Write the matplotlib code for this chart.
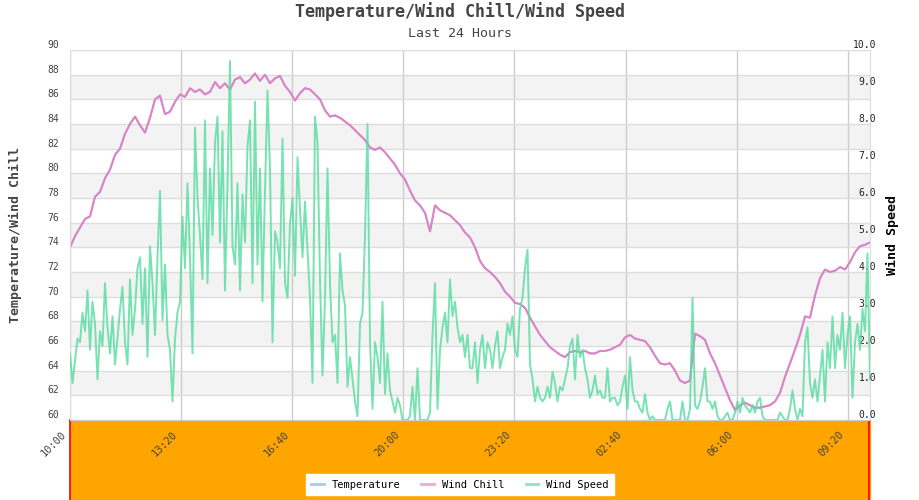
import numpy as np
import matplotlib
matplotlib.use("Agg")
import matplotlib.pyplot as plt
import matplotlib.transforms as mtransforms
from matplotlib.lines import Line2D

plt.rcParams["font.family"] = ["DejaVu Sans Mono"]

# x axis: minutes after 10:00
tick_minutes = [0, 200, 400, 600, 800, 1000, 1200, 1400]
tick_labels = ["10:00", "13:20", "16:40", "20:00", "23:20", "02:40", "06:00", "09:20"]

# wind chill, one reading every 9 minutes
chill_step = 9
wind_chill = [
    74.0, 74.9, 75.6, 76.3, 76.5, 78.1, 78.5, 79.6, 80.3, 81.5,
    82.0, 83.2, 84.0, 84.6, 83.9, 83.3, 84.5, 86.0, 86.3, 84.8,
    85.0, 85.8, 86.4, 86.2, 86.9, 86.6, 86.8, 86.4, 86.6, 87.4,
    86.9, 87.3, 86.8, 87.6, 87.8, 87.3, 87.6, 88.1, 87.5, 88.0,
    87.3, 87.7, 87.9, 87.1, 86.6, 85.9, 86.5, 86.9, 86.8, 86.4,
    86.0, 85.1, 84.6, 84.7, 84.5, 84.2, 83.9, 83.5, 83.1, 82.7,
    82.1, 81.9, 82.1, 81.7, 81.2, 80.7, 80.0, 79.5, 78.6, 77.8,
    77.4, 76.8, 75.3, 77.4, 77.0, 76.8, 76.6, 76.2, 75.8, 75.2,
    74.8, 74.0, 72.9, 72.3, 72.0, 71.6, 71.1, 70.4, 70.0, 69.5,
    69.4, 69.1, 68.3, 67.6, 66.9, 66.4, 65.9, 65.6, 65.3, 65.1,
    65.5, 65.6, 65.5, 65.6, 65.4, 65.4, 65.6, 65.6, 65.7, 65.9,
    66.1, 66.7, 66.9, 66.6, 66.5, 66.4, 65.9, 65.2, 64.6, 64.5,
    64.6, 64.0, 63.2, 63.0, 63.2, 67.0, 66.8, 66.5, 65.4, 64.6,
    63.6, 62.6, 61.6, 60.8, 61.2, 61.4, 61.2, 61.0, 61.0, 61.1,
    61.2, 61.5, 62.2, 63.5, 64.6, 65.7, 66.9, 68.4, 68.3, 70.1,
    71.5, 72.2, 72.0, 72.1, 72.4, 72.2, 72.8, 73.6, 74.1, 74.2,
    74.4,
]
# temperature equals wind chill at these temperatures (hidden under it)
temperature = list(wind_chill)

# wind speed, one reading every 4.5 minutes
speed_step = 4.5
wind_speed = [
    1.8, 1.0, 1.6, 2.2, 2.1, 2.9, 2.4, 3.5, 1.9, 3.2,
    2.6, 1.1, 2.4, 2.0, 3.7, 2.5, 1.8, 2.8, 1.5, 2.2,
    3.0, 3.6, 2.1, 1.5, 3.8, 2.3, 3.0, 4.1, 4.4, 2.6,
    4.1, 1.7, 4.7, 3.7, 2.3, 4.4, 6.2, 2.7, 4.2, 2.3,
    1.9, 0.5, 2.2, 2.9, 3.2, 5.5, 4.1, 6.4, 4.4, 1.8,
    7.9, 6.0, 5.0, 3.8, 8.1, 3.7, 6.8, 5.0, 7.5, 8.2,
    4.8, 7.8, 3.5, 6.4, 9.7, 4.7, 4.2, 6.4, 3.5, 6.1,
    4.8, 7.4, 8.1, 3.7, 8.6, 4.2, 6.8, 3.2, 6.2, 8.9,
    6.8,
    2.1, 5.1, 4.8, 4.1, 7.6, 3.7, 3.3, 5.3, 6.0, 3.9,
    7.1, 5.7, 4.4, 5.9, 4.6, 3.3, 1.0, 8.2, 7.5, 3.8,
    1.2, 3.3, 6.8, 3.7, 2.1, 2.3, 1.0, 4.5, 3.5, 3.1,
    0.9, 1.7, 1.1, 0.5, 0.1, 2.6, 2.9, 5.0, 8.0, 2.1,
    0.3, 2.1, 1.7, 1.0, 3.2, 0.7, 1.8, 0.8, 0.5, 0.2,
    0.6, 0.4, 0.0, 0.0, 0.0, 0.1, 0.9, 0.0, 1.4, 0.0,
    0.0, 0.0, 0.0, 0.2, 2.3, 3.7, 0.3, 1.9, 2.5, 2.9,
    2.1, 3.8, 2.8, 3.2, 2.5, 2.1, 2.3, 1.7, 2.3, 1.4,
    1.4, 2.1, 1.0, 1.9, 2.3, 1.4, 2.1, 1.9, 1.4, 2.0,
    2.4, 1.4, 1.7, 1.9, 2.6, 2.3, 2.8, 1.9, 1.7, 3.0,
    3.3, 4.1, 4.6, 1.5, 1.1, 0.5, 0.9, 0.6, 0.5, 0.6,
    0.9, 0.6, 1.3, 1.0, 0.5, 0.9, 0.8, 1.1, 1.4, 2.0,
    2.2, 1.1, 2.3, 1.7, 1.9, 1.4, 1.1, 0.6, 0.8, 1.2,
    0.7, 0.8, 0.6, 0.6, 1.4, 0.5, 0.6, 0.6, 0.4, 0.5,
    0.9, 1.2, 0.3, 1.7, 0.8, 0.5, 0.5, 0.3, 0.2, 0.7,
    0.2, 0.0, 0.1, 0.0, 0.0, 0.0, 0.0, 0.0, 0.3, 0.5,
    0.0, 0.0, 0.0, 0.0, 0.5, 0.0, 0.0, 0.3, 3.3, 0.4,
    0.3, 0.5, 0.9, 1.4, 0.5, 0.5, 0.3, 0.5, 0.1, 0.0,
    0.0, 0.1, 0.2, 0.0, 0.0, 0.2, 0.5, 0.2, 0.6, 0.4,
    0.3, 0.2, 0.4, 0.2, 0.5, 0.6, 0.1, 0.0, 0.0, 0.0,
    0.0, 0.0, 0.0, 0.2, 0.1, 0.0, 0.0, 0.3, 0.8, 0.3,
    0.0, 0.3, 0.1, 2.1, 2.5, 1.0, 0.6, 1.1, 0.5, 1.2,
    1.9, 0.5, 2.1, 1.4, 2.8, 1.4, 2.3, 1.9, 2.9, 1.4,
    2.3, 2.8, 0.6, 2.1, 2.6, 1.9, 3.0, 2.4, 4.5, 1.1,
]

chill_t = np.arange(len(wind_chill)) * chill_step
speed_t = np.arange(len(wind_speed)) * speed_step

text_col = "#444444"
fig = plt.figure(figsize=(9.2, 5.0), dpi=100)
ax = fig.add_axes([70 / 920, 80 / 500, 800 / 920, 370 / 500])

# orange strip under the plot with red sides (behind the axes)
fig.patches.append(plt.Rectangle((70 / 920, 0), 800 / 920, 80 / 500,
                                 transform=fig.transFigure, color="#ffa500", zorder=-5))
for xx in (70.5 / 920, 869.5 / 920):
    fig.lines.append(Line2D([xx, xx], [0, 80 / 500], transform=fig.transFigure,
                            color="red", lw=1.2, zorder=-4))

ax.set_xlim(0, 1440)
ax.set_ylim(60, 90)
for y in range(62, 90, 4):
    ax.axhspan(y, y + 2, color="#f3f3f3", zorder=0, lw=0)
ax.set_yticks(range(60, 91, 2))
ax.grid(axis="y", color="#dddddd", lw=1)
ax.grid(axis="x", color="#cccccc", lw=1)
ax.set_axisbelow(True)
ax.set_xticks(tick_minutes)
ax.set_xticklabels([])
ax.tick_params(axis="x", length=0)
# rotated time labels, placed by hand so they sit a bit left of each tick
shift = mtransforms.ScaledTranslation(-5 / 100, -13 / 100, fig.dpi_scale_trans)
for m, lab in zip(tick_minutes, tick_labels):
    ax.text(m, 0, lab, transform=ax.get_xaxis_transform() + shift, rotation=45,
            rotation_mode="anchor", ha="right", va="center", fontsize=7.5,
            color=text_col, clip_on=False)
ax.tick_params(axis="y", length=0, pad=8, labelsize=7, labelcolor=text_col)
for t in ax.get_yticklabels():
    t.set_va("bottom")
for s in ax.spines.values():
    s.set_color("#dddddd")
ax.spines["bottom"].set_color("#cccccc")

ax.plot(chill_t, temperature, color="#7fb2e0", lw=1.3)
ax.plot(chill_t, wind_chill, color="#e580c6", lw=1.4)
ax.set_ylabel("Temperature/Wind Chill", fontsize=9.5, fontweight="bold",
              color=text_col, labelpad=18)

ax2 = ax.twinx()
ax2.set_ylim(0, 10)
ax2.set_yticks(range(0, 11))
ax2.set_yticklabels([f"{v:.1f}" for v in range(0, 11)])
ax2.tick_params(axis="y", length=0, pad=4.5, labelsize=7, labelcolor="#222222")
for t in ax2.get_yticklabels():
    t.set_ha("right")
    t.set_va("bottom")
for s in ax2.spines.values():
    s.set_visible(False)
ax2.plot(speed_t, wind_speed, color="#55dc9f", lw=1.4, alpha=0.8)
ax2.set_ylabel("Wind Speed", fontsize=9.5, fontweight="bold", color="black", labelpad=7)

fig.text(0.5, 1 - 12 / 500, "Temperature/Wind Chill/Wind Speed", ha="center", va="center",
         fontsize=12, fontweight="bold", color=text_col)
fig.text(0.5, 1 - 33 / 500, "Last 24 Hours", ha="center", va="center",
         fontsize=9.5, color=text_col)

handles = [Line2D([], [], color="#a8cbec", lw=2),
           Line2D([], [], color="#f0a8d8", lw=2),
           Line2D([], [], color="#86e8c2", lw=2)]
leg = fig.legend(handles, ["Temperature", "Wind Chill", "Wind Speed"],
                 loc="center", bbox_to_anchor=(0.5, 1 - 484.5 / 500), ncol=3,
                 fontsize=7.5, frameon=True, fancybox=False, edgecolor="white",
                 framealpha=1, handlelength=1.2, handletextpad=0.8,
                 columnspacing=2.0, borderpad=0.5)

fig.savefig("out.png", dpi=100)
